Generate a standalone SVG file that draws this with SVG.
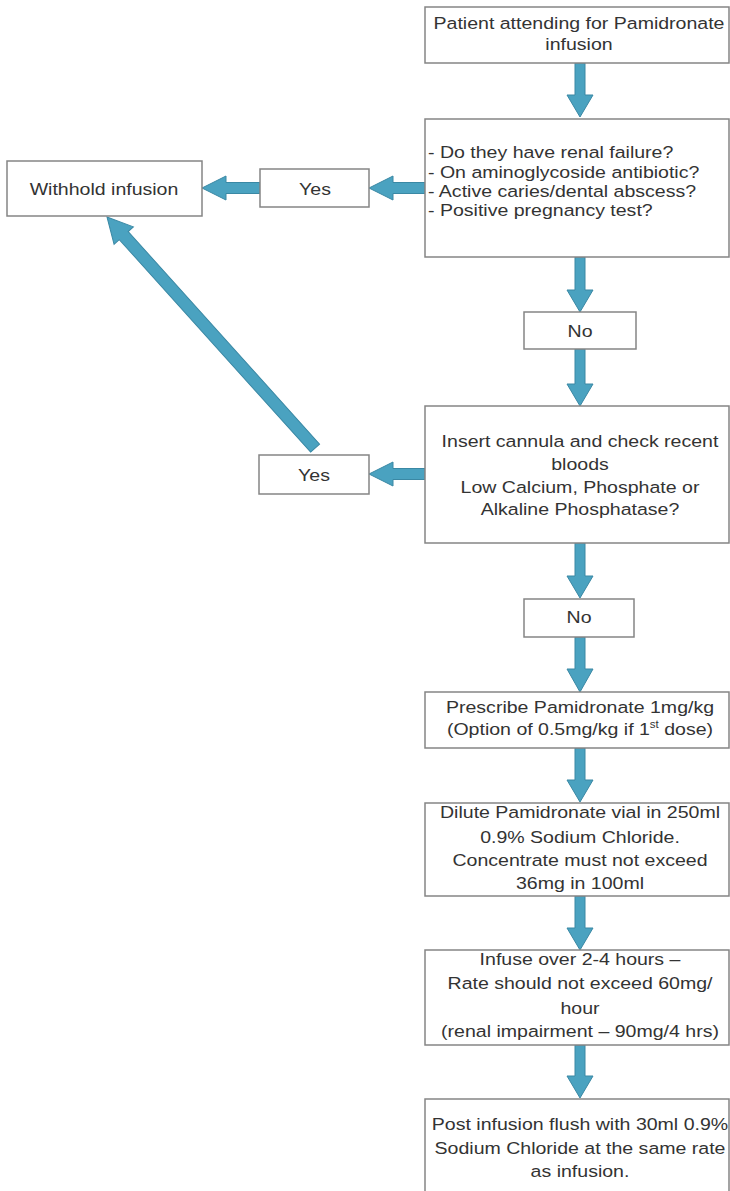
<svg xmlns="http://www.w3.org/2000/svg" width="730" height="1191" viewBox="0 0 730 1191">
<style>
.box{fill:#fff;stroke:#858585;stroke-width:1.5}
.t{font-family:"Liberation Sans",Arial,sans-serif;font-size:17px;fill:#333}
.c{text-anchor:middle}
.arrow{fill:#4aa2c0;stroke:#3a88a4;stroke-width:1}
</style>
<rect width="730" height="1191" fill="#fff"/>
<g id="connectors">
<path class="arrow" d="M575,63 V95 H567 L580,117 L593,95 H585 V63 Z"/>
<path class="arrow" d="M575,257 V290 H567 L580,312 L593,290 H585 V257 Z"/>
<path class="arrow" d="M575,349 V384 H567 L580,406 L593,384 H585 V349 Z"/>
<path class="arrow" d="M575,543 V576 H567 L580,598 L593,576 H585 V543 Z"/>
<path class="arrow" d="M575,637 V669 H567 L580,692 L593,669 H585 V637 Z"/>
<path class="arrow" d="M575,748 V780 H567 L580,802 L593,780 H585 V748 Z"/>
<path class="arrow" d="M575,896 V928 H567 L580,950 L593,928 H585 V896 Z"/>
<path class="arrow" d="M575,1045 V1076 H567 L580,1098 L593,1076 H585 V1045 Z"/>
<path class="arrow" d="M425,182.5 H393 V176 L369,188 L393,200 V193.5 H425 Z"/>
<path class="arrow" d="M260,182.5 H226 V176 L202,188 L226,200 V193.5 H260 Z"/>
<path class="arrow" d="M425,468.5 H393 V462 L369,474 L393,486 V479.5 H425 Z"/>
<path class="arrow" transform="translate(107,217) rotate(48)" d="M0,0 L25,-13 V-6 H311 V6 H25 V13 Z"/>
</g>
<g id="n1"><rect class="box" x="425" y="7" width="304" height="56"/>
<g transform="translate(579,0) scale(1.15,1)"><text class="t c" x="0" y="29">Patient attending for Pamidronate</text><text class="t c" x="0" y="50">infusion</text></g></g>
<g id="n2"><rect class="box" x="425" y="119" width="304" height="138"/>
<g transform="translate(428,0) scale(1.15,1)"><text class="t" x="0" y="158">- Do they have renal failure?</text><text class="t" x="0" y="178">- On aminoglycoside antibiotic?</text><text class="t" x="0" y="197">- Active caries/dental abscess?</text><text class="t" x="0" y="216">- Positive pregnancy test?</text></g></g>
<g id="yes1"><rect class="box" x="260" y="169" width="109" height="38"/>
<g transform="translate(315,0) scale(1.15,1)"><text class="t c" x="0" y="195">Yes</text></g></g>
<g id="withhold"><rect class="box" x="7" y="161" width="195" height="55"/>
<g transform="translate(104,0) scale(1.15,1)"><text class="t c" x="0" y="195">Withhold infusion</text></g></g>
<g id="no1"><rect class="box" x="524" y="312" width="112" height="37"/>
<g transform="translate(580,0) scale(1.15,1)"><text class="t c" x="0" y="337">No</text></g></g>
<g id="n3"><rect class="box" x="425" y="406" width="304" height="137"/>
<g transform="translate(580,0) scale(1.15,1)"><text class="t c" x="0" y="447">Insert cannula and check recent</text><text class="t c" x="0" y="470">bloods</text><text class="t c" x="0" y="493">Low Calcium, Phosphate or</text><text class="t c" x="0" y="515">Alkaline Phosphatase?</text></g></g>
<g id="yes2"><rect class="box" x="259" y="455" width="110" height="39"/>
<g transform="translate(314,0) scale(1.15,1)"><text class="t c" x="0" y="481">Yes</text></g></g>
<g id="no2"><rect class="box" x="524" y="599" width="110" height="38"/>
<g transform="translate(579,0) scale(1.15,1)"><text class="t c" x="0" y="623">No</text></g></g>
<g id="n4"><rect class="box" x="425" y="692" width="304" height="56"/>
<g transform="translate(580,0) scale(1.15,1)"><text class="t c" x="0" y="713">Prescribe Pamidronate 1mg/kg</text><text class="t c" x="0" y="735">(Option of 0.5mg/kg if 1<tspan font-size="10" dy="-7">st</tspan><tspan dy="7"> dose)</tspan></text></g></g>
<g id="n5"><rect class="box" x="425" y="803" width="304" height="93"/>
<g transform="translate(580,0) scale(1.15,1)"><text class="t c" x="0" y="818">Dilute Pamidronate vial in 250ml</text><text class="t c" x="0" y="843">0.9% Sodium Chloride.</text><text class="t c" x="0" y="866">Concentrate must not exceed</text><text class="t c" x="0" y="889">36mg in 100ml</text></g></g>
<g id="n6"><rect class="box" x="425" y="950" width="304" height="95"/>
<g transform="translate(580,0) scale(1.15,1)"><text class="t c" x="0" y="965">Infuse over 2-4 hours –</text><text class="t c" x="0" y="989">Rate should not exceed 60mg/</text><text class="t c" x="0" y="1014">hour</text><text class="t c" x="0" y="1037">(renal impairment – 90mg/4 hrs)</text></g></g>
<g id="n7"><rect class="box" x="425" y="1099" width="304" height="100"/>
<g transform="translate(580,0) scale(1.15,1)"><text class="t c" x="0" y="1130">Post infusion flush with 30ml 0.9%</text><text class="t c" x="0" y="1154">Sodium Chloride at the same rate</text><text class="t c" x="0" y="1177">as infusion.</text></g></g>
</svg>
